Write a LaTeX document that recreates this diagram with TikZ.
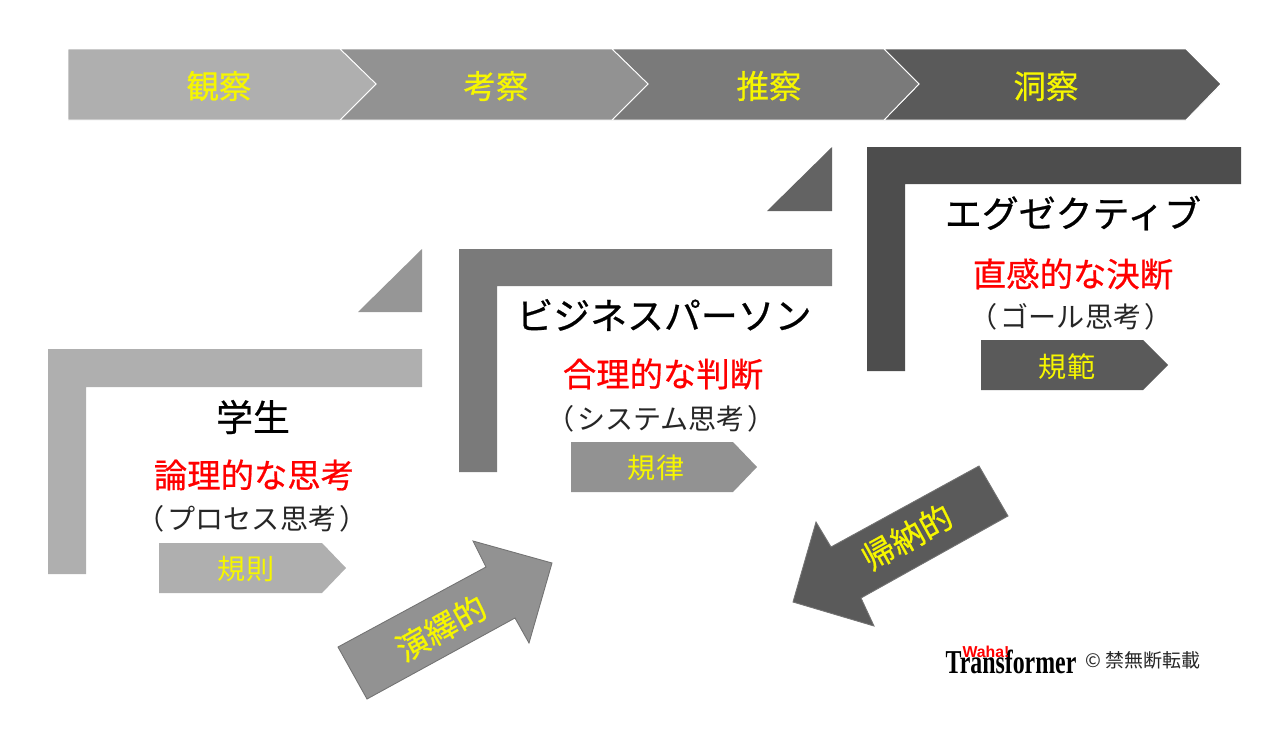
\documentclass[tikz,border=0pt]{standalone}
\usepackage{fontspec}
\setmainfont{Noto Sans CJK JP}
\newfontfamily\heavyfont[FakeBold=0.6]{Noto Sans CJK JP}
\newfontfamily\logofont{Liberation Serif}
\newfontfamily\wahafont{Liberation Sans}
\definecolor{stageA}{HTML}{AFAFAF}
\definecolor{stageB}{HTML}{929292}
\definecolor{stageC}{HTML}{7A7A7A}
\definecolor{stageD}{HTML}{5A5A5A}
\definecolor{wedgeA}{HTML}{969696}
\definecolor{wedgeB}{HTML}{636363}
\definecolor{stepC}{HTML}{4D4D4D}
\definecolor{labelyellow}{HTML}{F6F600}
\newcommand{\inparen}[1]{（\hspace{.1em}#1\hspace{.1em}）}
\tikzset{
    chevron/.style={draw=white, line width=0.5pt},
    bigarrow/.style={draw=black!55, line width=0.5pt},
    headtext/.style={text=labelyellow, font=\heavyfont\fontsize{18.5}{20}\selectfont},
    ruletext/.style={text=labelyellow, font=\fontsize{16}{18}\selectfont},
    arrowtext/.style={text=labelyellow, font=\heavyfont\fontsize{18.5}{20}\selectfont, rotate=29},
    roletext/.style={font=\heavyfont\fontsize{21}{23}\selectfont},
    goodtext/.style={text=red, font=\heavyfont\fontsize{19}{21}\selectfont},
    thinktext/.style={text=black!85, font=\fontsize{16}{18}\selectfont},
}
\begin{document}
\begin{tikzpicture}[x=0.02cm, y=-0.02cm]
    \path[use as bounding box] (0,0) rectangle (1286,738);

    % Top band
    \fill[stageD, chevron] (884,49) -- (1186,49) -- (1221,84) -- (1186,120) -- (884,120) -- (919,84) -- cycle;
    \fill[stageC, chevron] (612,49) -- (884,49) -- (919,84) -- (884,120) -- (612,120) -- (648,84) -- cycle;
    \fill[stageB, chevron] (340,49) -- (612,49) -- (648,84) -- (612,120) -- (340,120) -- (376,84) -- cycle;
    \fill[stageA, chevron] (68,49) -- (340,49) -- (376,84) -- (340,120) -- (68,120) -- cycle;
    \node[headtext] (observe) at (219,86) {観察};
    \node[headtext] (consider) at (496,86) {考察};
    \node[headtext] (infer) at (769,86) {推察};
    \node[headtext] (insight) at (1046,86) {洞察};

    % Steps
    \fill[stageA] (48,349) -- (422,349) -- (422,387) -- (86,387) -- (86,574) -- (48,574) -- cycle;
    \fill[stageC] (459,249) -- (832,249) -- (832,286) -- (497,286) -- (497,472) -- (459,472) -- cycle;
    \fill[stepC] (867,147) -- (1241,147) -- (1241,184) -- (905,184) -- (905,371) -- (867,371) -- cycle;

    % Wedges
    \fill[wedgeA] (422,249) -- (422,312) -- (358,312) -- cycle;
    \fill[wedgeB] (832,147) -- (832,211) -- (767,211) -- cycle;

    % Student
    \node[roletext] (student) at (253,417) {学生};
    \node[goodtext] (logical) at (254,475) {論理的な思考};
    \node[thinktext] (process) at (252,519) {\inparen{プロセス思考}};
    \fill[stageA] (159,543) -- (322,543) -- (346,568) -- (322,593) -- (159,593) -- cycle;
    \node[ruletext] (rule) at (246,569) {規則};

    % Business person
    \node[roletext] (business) at (664,315) {ビジネスパーソン};
    \node[goodtext] (rational) at (663,374) {合理的な判断};
    \node[thinktext] (system) at (661,419) {\inparen{システム思考}};
    \fill[stageB] (571,442) -- (733,442) -- (757,467) -- (733,492) -- (571,492) -- cycle;
    \node[ruletext] (discipline) at (656,468) {規律};

    % Executive
    \node[roletext] (executive) at (1073,213) {エグゼクティブ};
    \node[goodtext] (intuitive) at (1073,274) {直感的な決断};
    \node[thinktext] (goal) at (1071,317) {\inparen{ゴール思考}};
    \fill[stageD] (981,340) -- (1143,340) -- (1168,365) -- (1143,390) -- (981,390) -- cycle;
    \node[ruletext] (norm) at (1067,367) {規範};

    % Big arrows
    \filldraw[fill=stageB, bigarrow] (338,647) -- (486,567) -- (473,541) -- (552,563) -- (529,643) -- (515,618) -- (367,699) -- cycle;
    \node[arrowtext] (deductive) at (441,628) {演繹的};
    \filldraw[fill=stageD, bigarrow] (979,466) -- (831,547) -- (816,522) -- (793,602) -- (874,626) -- (861,598) -- (1008,516) -- cycle;
    \node[arrowtext] (inductive) at (907,537) {帰納的};

    % Logo
    \node[inner sep=0pt, font=\logofont\bfseries\fontsize{19}{20}\selectfont] (logo) at (1011,662) {\scalebox{0.715}[1]{Transformer}};
    \node[inner sep=0pt, text=red, font=\wahafont\bfseries\fontsize{9}{10}\selectfont] (waha) at (986,652) {Waha!};
    \node[inner sep=0pt, font=\fontsize{10.8}{12}\selectfont, text=black!85] (notice) at (1143,660) {© 禁無断転載};
\end{tikzpicture}
\end{document}
